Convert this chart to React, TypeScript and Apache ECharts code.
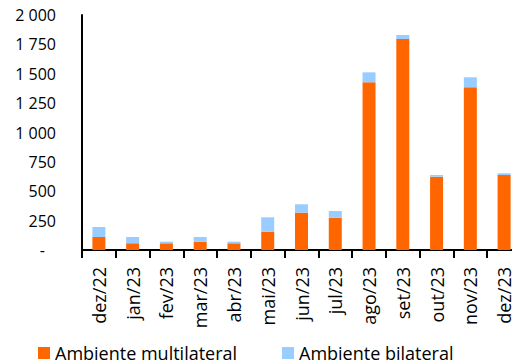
import React, { useEffect, useRef } from "react";
import * as echarts from "echarts";

const categories = [
  "dez/22", "jan/23", "fev/23", "mar/23", "abr/23", "mai/23", "jun/23",
  "jul/23", "ago/23", "set/23", "out/23", "nov/23", "dez/23",
];
const multilateral = [111, 57, 57, 71, 57, 156, 318, 275, 1427, 1796, 624, 1385, 638];
const bilateral = [85, 54, 14, 40, 14, 122, 71, 57, 85, 34, 14, 85, 15];
const seriesNames = ["Ambiente multilateral", "Ambiente bilateral"];
const yTicks = { min: 0, max: 2000, interval: 250 };

const FONT = "'Open Sans', sans-serif";
const ORANGE = "#FF6600";
const BLUE = "#99CCFF";

// "1 750" style thousands grouping, dash for zero
function formatTick(v: number): string {
  if (v === 0) return "{z|-}";
  return String(v).replace(/\B(?=(\d{3})+(?!\d))/g, " ");
}

function legendFor(name: string, left: number) {
  return {
    data: [name],
    left,
    top: 339,
    icon: "rect",
    itemWidth: 12,
    itemHeight: 12,
    itemGap: 0,
    textStyle: { fontFamily: FONT, fontSize: 18, color: "#000" },
  };
}

export default function App() {
  const ref = useRef<HTMLDivElement>(null);

  useEffect(() => {
    if (!ref.current) return;
    const chart = echarts.init(ref.current, null, { renderer: "svg" });
    chart.setOption({
      animation: false,
      backgroundColor: "#ffffff",
      // the plot runs past the right edge, so the last month is partly hidden
      grid: {
        left: 82,
        width: 439,
        top: 15,
        height: 235,
        containLabel: false,
        outerBoundsMode: "none",
      },
      legend: [legendFor(seriesNames[0], 33), legendFor(seriesNames[1], 277)],
      xAxis: {
        type: "category",
        data: categories,
        boundaryGap: true,
        axisLine: { show: true, lineStyle: { color: "#000", width: 2 } },
        axisTick: { show: true, length: 8, lineStyle: { color: "#000", width: 2 } },
        axisLabel: {
          rotate: 90,
          interval: 0,
          margin: 17,
          fontFamily: FONT,
          fontSize: 18,
          color: "#000",
        },
      },
      yAxis: {
        type: "value",
        min: yTicks.min,
        max: yTicks.max,
        interval: yTicks.interval,
        splitLine: { show: false },
        axisTick: { show: false },
        axisLine: { show: true, lineStyle: { color: "#000", width: 2 } },
        axisLabel: {
          margin: 26,
          fontFamily: FONT,
          fontSize: 16,
          color: "#000",
          formatter: formatTick,
          rich: { z: { fontFamily: FONT, fontSize: 16, color: "#000", padding: [0, 11, 0, 0] } },
        },
      },
      series: [
        {
          name: seriesNames[0],
          type: "bar",
          stack: "total",
          data: multilateral,
          barWidth: 13,
          itemStyle: { color: ORANGE },
        },
        {
          name: seriesNames[1],
          type: "bar",
          stack: "total",
          data: bilateral,
          barWidth: 13,
          itemStyle: { color: BLUE },
        },
      ],
    });
    return () => chart.dispose();
  }, []);

  return (
    <div
      ref={ref}
      style={{ position: "fixed", left: 0, top: 0, width: 512, height: 361 }}
    />
  );
}
